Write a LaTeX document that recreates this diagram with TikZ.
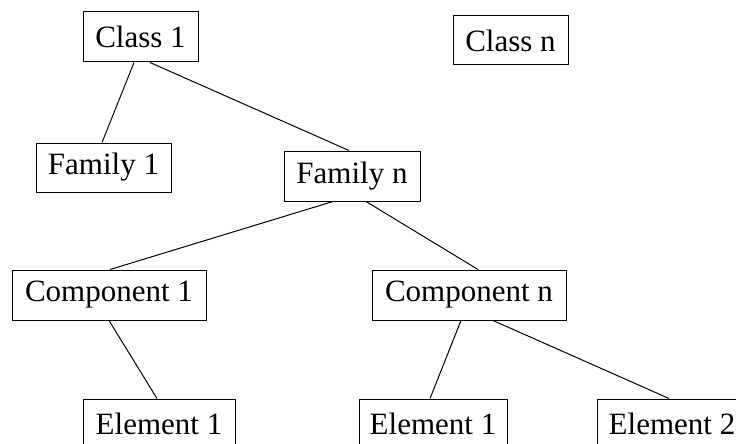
\documentclass[tikz,border=0pt]{standalone}
\usepackage{fontspec}
\setmainfont{Liberation Serif}
\begin{document}
\begin{tikzpicture}[x=1pt,y=-1pt,
  box/.style={draw,line width=1pt,inner sep=0pt,minimum height=50pt,font=\fontsize{31}{31}\selectfont},
  edge/.style={line width=1pt}]
\useasboundingbox (0,0) rectangle (736,444);
\node[box,minimum width=115pt] (c1) at (140.5,37) {Class 1};
\node[box,minimum width=115pt,minimum height=49pt] (cn) at (510.5,40.5) {Class n};
\node[box,minimum width=135pt,minimum height=49pt] (f1) at (103.5,167.5) {Family 1};
\node[box,minimum width=136pt] (fn) at (352,176) {Family n};
\node[box,minimum width=194pt] (p1) at (109,295) {Component 1};
\node[box,minimum width=194pt] (pn) at (469,295) {Component n};
\node[box,minimum width=152pt] (e1) at (159,424) {Element 1};
\node[box,minimum width=148pt] (e1b) at (433,424) {Element 1};
\node[box,minimum width=150pt] (e2) at (672,424) {Element 2};
\draw[edge] ([xshift=-6.5pt]c1.south) -- ([xshift=-1.5pt]f1.north);
\draw[edge] ([xshift=9.5pt]c1.south) -- ([xshift=-3pt]fn.north);
\draw[edge] ([xshift=-19pt]fn.south) -- ([xshift=1pt]p1.north);
\draw[edge] ([xshift=14pt]fn.south) -- ([xshift=9pt]pn.north);
\draw[edge] (p1.south) -- ([xshift=-2pt]e1.north);
\draw[edge] ([xshift=-8pt]pn.south) -- ([xshift=-3pt]e1b.north);
\draw[edge] ([xshift=24pt]pn.south) -- ([xshift=-3pt]e2.north);
\end{tikzpicture}
\end{document}
